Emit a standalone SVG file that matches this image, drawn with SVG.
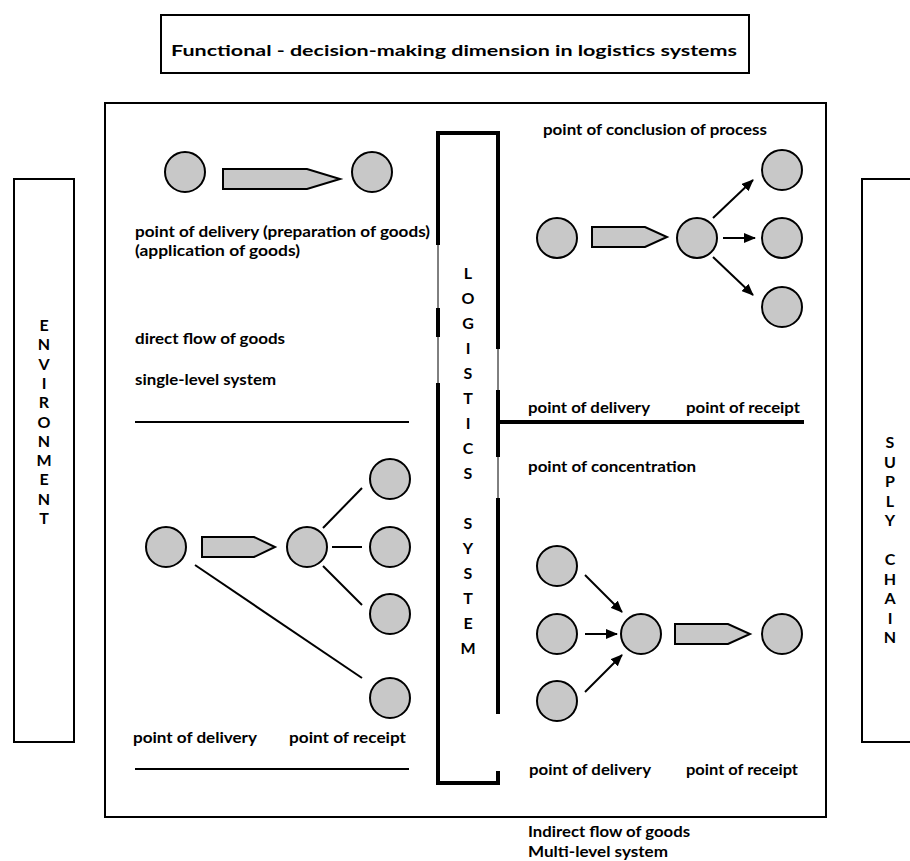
<svg xmlns="http://www.w3.org/2000/svg" width="910" height="861" viewBox="0 0 910 861">
<style>
.t{font-family:Lato,"DejaVu Sans",sans-serif;font-weight:bold;font-size:14.5px;fill:#000}
.v{font-family:Lato,"DejaVu Sans",sans-serif;font-weight:bold;font-size:16px;fill:#000;text-anchor:middle}
.box{fill:#fff;stroke:#000;stroke-width:2}
.c{fill:#c8c8c8;stroke:#000;stroke-width:2}
.ln{stroke:#000;stroke-width:2;fill:none}
.ar{stroke:#000;stroke-width:2;fill:none;marker-end:url(#ah)}
.thick{stroke:#000;stroke-width:4;fill:none;stroke-linecap:square}
.thin{stroke:#000;stroke-width:1;fill:none}
</style>
<defs>
<marker id="ah" markerWidth="12" markerHeight="10" refX="11" refY="5" orient="auto" markerUnits="userSpaceOnUse">
<path d="M0,0 L12,5 L0,10 z" fill="#000"/>
</marker>
</defs>
<rect width="910" height="861" fill="#fff"/>

<g id="title">
<rect class="box" x="161" y="15" width="588" height="58"/>
<text class="t" x="171" y="56" font-size="17.5" textLength="566" lengthAdjust="spacingAndGlyphs">Functional - decision-making dimension in logistics systems</text>
</g>

<g id="main-frame">
<rect class="box" x="105" y="103" width="721" height="714"/>
</g>

<g id="environment">
<rect class="box" x="14" y="179" width="60" height="563"/>
<text class="v" x="44" y="331"><tspan x="44">E</tspan><tspan x="44" dy="19.3">N</tspan><tspan x="44" dy="19.3">V</tspan><tspan x="44" dy="19.3">I</tspan><tspan x="44" dy="19.3">R</tspan><tspan x="44" dy="19.3">O</tspan><tspan x="44" dy="19.3">N</tspan><tspan x="44" dy="19.3">M</tspan><tspan x="44" dy="19.3">E</tspan><tspan x="44" dy="19.3">N</tspan><tspan x="44" dy="19.3">T</tspan></text>
</g>

<g id="supply-chain">
<rect class="box" x="862" y="179" width="60" height="563"/>
<text class="v" x="890" y="448"><tspan x="890">S</tspan><tspan x="890" dy="19.5">U</tspan><tspan x="890" dy="19.5">P</tspan><tspan x="890" dy="19.5">L</tspan><tspan x="890" dy="19.5">Y</tspan><tspan x="890" dy="39">C</tspan><tspan x="890" dy="19.5">H</tspan><tspan x="890" dy="19.5">A</tspan><tspan x="890" dy="19.5">I</tspan><tspan x="890" dy="19.5">N</tspan></text>
</g>

<g id="logistics-system">
<path class="thin" d="M438,133 V783 M498,133 V712 M498,773 V783"/>
<path class="thick" d="M438,243 V133 H498 V347 M438,310 V335 M438,385 V783 H498 V773 M498,392 V455 M498,500 V712"/>
<text class="v" x="468" y="279" font-size="18"><tspan x="468">L</tspan><tspan x="468" dy="25">O</tspan><tspan x="468" dy="25">G</tspan><tspan x="468" dy="25">I</tspan><tspan x="468" dy="25">S</tspan><tspan x="468" dy="25">T</tspan><tspan x="468" dy="25">I</tspan><tspan x="468" dy="25">C</tspan><tspan x="468" dy="25">S</tspan><tspan x="468" dy="50">S</tspan><tspan x="468" dy="25">Y</tspan><tspan x="468" dy="25">S</tspan><tspan x="468" dy="25">T</tspan><tspan x="468" dy="25">E</tspan><tspan x="468" dy="25">M</tspan></text>
</g>

<g id="dividers">
<line class="thick" x1="500" y1="422" x2="802" y2="422"/>
<line class="ln" x1="135" y1="422" x2="409" y2="422"/>
<line class="ln" x1="135" y1="769" x2="409" y2="769"/>
</g>

<g id="direct-single">
<circle class="c" cx="185" cy="172" r="20"/>
<path class="c" d="M223,169 H307 L340,179 L307,189 H223 Z"/>
<circle class="c" cx="372" cy="172" r="20"/>
<text class="t" x="135" y="237" textLength="295" lengthAdjust="spacingAndGlyphs">point of delivery (preparation of goods)</text>
<text class="t" x="135" y="256" textLength="165" lengthAdjust="spacingAndGlyphs">(application of goods)</text>
<text class="t" x="135" y="344" textLength="150" lengthAdjust="spacingAndGlyphs">direct flow of goods</text>
<text class="t" x="135" y="385" textLength="141" lengthAdjust="spacingAndGlyphs">single-level system</text>
</g>

<g id="conclusion">
<text class="t" x="543" y="135" textLength="224" lengthAdjust="spacingAndGlyphs">point of conclusion of process</text>
<circle class="c" cx="557" cy="238" r="20"/>
<path class="c" d="M592,227 H645 L667,237 L645,247 H592 Z"/>
<circle class="c" cx="697" cy="238" r="20"/>
<circle class="c" cx="782" cy="170" r="20"/>
<circle class="c" cx="782" cy="238" r="20"/>
<circle class="c" cx="782" cy="307" r="20"/>
<text class="t" x="528" y="413" textLength="122" lengthAdjust="spacingAndGlyphs">point of delivery</text>
<text class="t" x="686" y="413" textLength="114" lengthAdjust="spacingAndGlyphs">point of receipt</text>
</g>

<g id="distribution">
<circle class="c" cx="166" cy="547" r="20"/>
<path class="c" d="M202,537 H254 L275,547 L254,557 H202 Z"/>
<circle class="c" cx="307" cy="547" r="20"/>
<circle class="c" cx="390" cy="479" r="20"/>
<circle class="c" cx="390" cy="547" r="20"/>
<circle class="c" cx="390" cy="614" r="20"/>
<circle class="c" cx="390" cy="698" r="20"/>
<text class="t" x="133" y="743" textLength="124" lengthAdjust="spacingAndGlyphs">point of delivery</text>
<text class="t" x="289" y="743" textLength="117" lengthAdjust="spacingAndGlyphs">point of receipt</text>
</g>

<g id="concentration">
<text class="t" x="528" y="472" textLength="168" lengthAdjust="spacingAndGlyphs">point of concentration</text>
<circle class="c" cx="557" cy="566" r="20"/>
<circle class="c" cx="557" cy="634" r="20"/>
<circle class="c" cx="557" cy="701" r="20"/>
<circle class="c" cx="641" cy="634" r="20"/>
<path class="c" d="M675,624 H728 L750,634 L728,644 H675 Z"/>
<circle class="c" cx="782" cy="634" r="20"/>
<text class="t" x="529" y="775" textLength="122" lengthAdjust="spacingAndGlyphs">point of delivery</text>
<text class="t" x="686" y="775" textLength="112" lengthAdjust="spacingAndGlyphs">point of receipt</text>
</g>

<g id="connectors">
<line class="ar" x1="713" y1="218" x2="753" y2="180"/>
<line class="ar" x1="723" y1="238" x2="755" y2="238"/>
<line class="ar" x1="713" y1="257" x2="753" y2="295"/>
<line class="ln" x1="323" y1="528" x2="362" y2="488"/>
<line class="ln" x1="332" y1="547" x2="362" y2="547"/>
<line class="ln" x1="323" y1="566" x2="362" y2="605"/>
<line class="ln" x1="195" y1="565" x2="362" y2="678"/>
<line class="ar" x1="585" y1="575" x2="622" y2="612"/>
<line class="ar" x1="585" y1="634" x2="617" y2="634"/>
<line class="ar" x1="585" y1="692" x2="622" y2="655"/>
</g>

<g id="footer">
<text class="t" x="528" y="837" textLength="162" lengthAdjust="spacingAndGlyphs">Indirect flow of goods</text>
<text class="t" x="528" y="857" textLength="140" lengthAdjust="spacingAndGlyphs">Multi-level system</text>
</g>
</svg>
